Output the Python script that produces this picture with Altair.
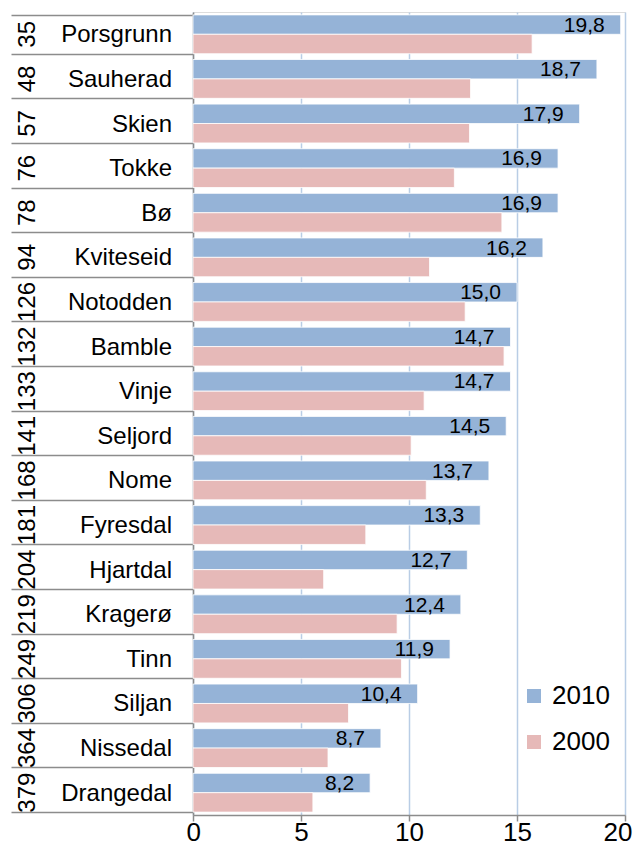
import altair as alt
import pandas as pd

names = ["Porsgrunn", "Sauherad", "Skien", "Tokke", "Bø", "Kviteseid", "Notodden",
         "Bamble", "Vinje", "Seljord", "Nome", "Fyresdal", "Hjartdal", "Kragerø",
         "Tinn", "Siljan", "Nissedal", "Drangedal"]
ranks = [35, 48, 57, 76, 78, 94, 126, 132, 133, 141, 168, 181, 204, 219, 249, 306, 364, 379]
v2010 = [19.8, 18.7, 17.9, 16.9, 16.9, 16.2, 15.0, 14.7, 14.7, 14.5, 13.7, 13.3,
         12.7, 12.4, 11.9, 10.4, 8.7, 8.2]
v2000 = [15.7, 12.85, 12.8, 12.1, 14.3, 10.95, 12.6, 14.4, 10.7, 10.1, 10.8, 8.0,
         6.05, 9.45, 9.65, 7.2, 6.25, 5.55]
series = ["2010", "2000"]
colors = ["#95B3D7", "#E6B9B8"]
ticks = [0, 5, 10, 15, 20]

rows = []
for n, r, a, b in zip(names, ranks, v2010, v2000):
    rows.append({"name": n, "rank": str(r), "series": "2010", "value": a,
                 "label": f"{a:.1f}".replace(".", ",")})
    rows.append({"name": n, "rank": str(r), "series": "2000", "value": b,
                 "label": f"{b:.1f}".replace(".", ",")})
df = pd.DataFrame(rows)
lab = pd.DataFrame({"name": names, "rank": [str(r) for r in ranks]})

FONT = "Liberation Sans"

yenc = alt.Y("name:N", sort=names,
             scale=alt.Scale(paddingInner=0.13, paddingOuter=0.065),
             axis=alt.Axis(title=None, labels=False, tickBand="extent", tickSize=182,
                           tickColor="#8C8C8C", tickWidth=1.5, domainColor="#8C8C8C",
                           domainWidth=1.5, grid=False))

bars = alt.Chart(df).mark_bar(stroke="white", strokeWidth=0.8).encode(
    x=alt.X("value:Q", scale=alt.Scale(domain=[0, 20], nice=False),
            axis=alt.Axis(values=ticks, title=None, grid=True, gridColor="#B9CDE5",
                          gridWidth=1.5, domainColor="#8C8C8C", domainWidth=1.5,
                          tickColor="#8C8C8C", tickWidth=1.5, tickSize=6,
                          labelFontSize=26, labelColor="black", labelPadding=-2,
                          labelFont=FONT, labelFlush=True, labelFlushOffset=7)),
    y=yenc,
    yOffset=alt.YOffset("series:N", sort=series),
    color=alt.Color("series:N", sort=series,
                    scale=alt.Scale(domain=series, range=colors),
                    legend=alt.Legend(title=None, orient="none", legendX=328, legendY=671,
                                      symbolType="square", symbolSize=196,
                                      symbolStrokeWidth=0, labelFontSize=26,
                                      labelFont=FONT, labelColor="black",
                                      rowPadding=20, labelOffset=5, padding=0)),
)

values = alt.Chart(df).transform_filter(alt.datum.series == "2010").mark_text(
    align="right", baseline="middle", dx=-16, dy=1, fontSize=21, font=FONT, color="black"
).encode(
    x="value:Q",
    y=alt.Y("name:N", sort=names),
    yOffset=alt.YOffset("series:N", sort=series),
    text="label:N",
)

name_text = alt.Chart(lab).mark_text(
    align="right", baseline="middle", fontSize=24, font=FONT, color="black", dy=1
).encode(
    x=alt.value(-21),
    y=alt.Y("name:N", sort=names),
    text="name:N",
)

rank_text = alt.Chart(lab).mark_text(
    align="center", baseline="middle", fontSize=24, font=FONT, color="black", angle=270
).encode(
    x=alt.value(-165),
    y=alt.Y("name:N", sort=names),
    text="rank:N",
)

chart = alt.layer(bars, values, name_text, rank_text).properties(
    width=432, height=803,
    autosize=alt.AutoSizeParams(type="none"),
    padding={"left": 185, "top": 4, "right": 8, "bottom": 31},
).configure_view(stroke=None).configure(font=FONT)

chart.save("out.html", embed_options={"renderer": "svg", "actions": False})
